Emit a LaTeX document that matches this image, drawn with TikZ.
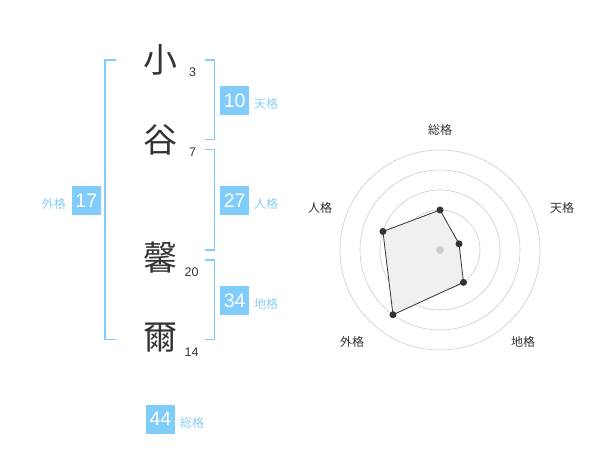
\documentclass[tikz,border=0pt]{standalone}
\usetikzlibrary{calc}
\usepackage{fontspec}
\setmainfont{Liberation Sans}
\newfontfamily\cjk{Noto Sans CJK JP}
\definecolor{boxblue}{HTML}{80CCFA}
\definecolor{lblblue}{HTML}{8ACDF2}
\definecolor{ink}{HTML}{333333}
\definecolor{ringgray}{HTML}{CCCCCC}
\tikzset{
  namechar/.style={text=ink,font=\cjk\fontsize{34}{34}\selectfont,inner sep=0pt},
  stroke/.style={text=ink,font=\fontsize{12.5}{13}\selectfont,inner sep=0pt,anchor=west},
  valbox/.style={fill=boxblue,text=white,font=\fontsize{19.5}{19.5}\selectfont,minimum width=29pt,minimum height=29pt,inner sep=0pt},
  vallbl/.style={text=lblblue,font=\cjk\fontsize{12}{12}\selectfont,inner sep=0pt},
  bracket/.style={draw=boxblue,line width=1.6pt},
  ring/.style={draw=ringgray,line width=0.6pt},
  axlbl/.style={text=ink,font=\cjk\fontsize{12}{12}\selectfont,inner sep=0pt},
  dot/.style={circle,fill=ink,minimum size=7pt,inner sep=0pt},
}
\begin{document}
\begin{tikzpicture}[x=1pt,y=-1pt]
\useasboundingbox (0,0) rectangle (600,470);
% name characters
\node[namechar] (c1) at (160,60) {小};
\node[namechar] (c2) at (160,140) {谷};
\node[namechar] (c3) at (160,258) {馨};
\node[namechar] (c4) at (160,338) {爾};
\node[stroke] (s1) at (189,72.5) {3};
\node[stroke] (s2) at (189,152.5) {7};
\node[stroke] (s3) at (184.5,272.5) {20};
\node[stroke] (s4) at (184.5,352.5) {14};
% brackets
\draw[bracket] (116,60) -- (105,60) -- (105,339.5) -- (116,339.5);
\draw[bracket] (205,60) -- (214.5,60) -- (214.5,139.5) -- (205,139.5);
\draw[bracket] (205,149.5) -- (214.5,149.5) -- (214.5,250) -- (205,250);
\draw[bracket] (205,260) -- (214.5,260) -- (214.5,339.5) -- (205,339.5);
% value boxes
\node[valbox] (ten) at (234.7,100.3) {10};
\node[vallbl,anchor=west] (tenl) at (254,104) {天格};
\node[valbox] (jin) at (234.7,200.3) {27};
\node[vallbl,anchor=west] (jinl) at (254,204) {人格};
\node[valbox] (chi) at (234.7,300.3) {34};
\node[vallbl,anchor=west] (chil) at (254,304) {地格};
\node[valbox] (gai) at (86.3,200.3) {17};
\node[vallbl,anchor=east] (gail) at (66,204) {外格};
\node[valbox] (sou) at (160.5,419.2) {44};
\node[vallbl,anchor=west] (soul) at (180,423) {総格};
% radar chart
\coordinate (O) at (440,250);
\foreach \r in {20,40,60,80,100} \draw[ring] (O) circle[radius=\r];
\coordinate (pS) at ($(O)+(-90:40)$);
\coordinate (pT) at ($(O)+(-18:20)$);
\coordinate (pC) at ($(O)+(54:40)$);
\coordinate (pG) at ($(O)+(126:80)$);
\coordinate (pJ) at ($(O)+(198:60)$);
\draw[fill=black!6,draw=ink,line width=0.8pt] (pS) -- (pT) -- (pC) -- (pG) -- (pJ) -- cycle;
\node[circle,fill=ringgray,minimum size=8pt,inner sep=0pt] (ctr) at (O) {};
\foreach \p in {pS,pT,pC,pG,pJ} \node[dot] at (\p) {};
\node[axlbl] (aS) at (440,130) {総格};
\node[axlbl] (aT) at (562,208) {天格};
\node[axlbl] (aJ) at (320,208) {人格};
\node[axlbl] (aG) at (352,342) {外格};
\node[axlbl] (aC) at (523,342) {地格};
\end{tikzpicture}
\end{document}
